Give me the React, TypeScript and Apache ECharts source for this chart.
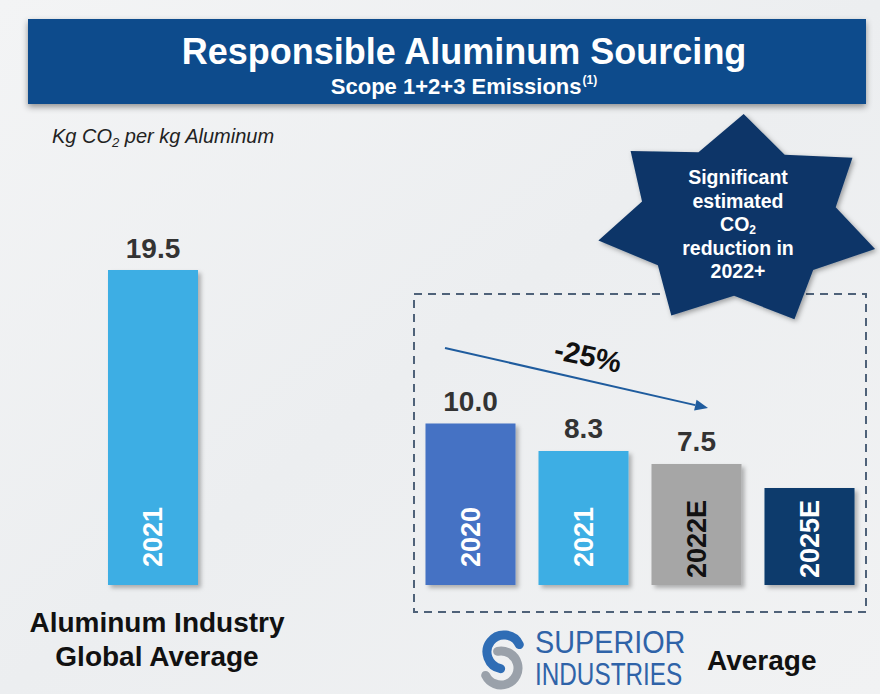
import React, { useEffect, useRef } from "react";
import * as echarts from "echarts";

// ---- Data ----
const leftCategories = ["2021"];
const leftValues = [19.5];
const leftColors = ["#3eaee4"];
const leftYearColors = ["#ffffff"];

const rightCategories = ["2020", "2021", "2022E", "2025E"];
const rightValues = [10.0, 8.3, 7.5, 6.0];
const rightShowValue = [true, true, true, false];
const rightColors = ["#4472c4", "#3eaee4", "#a6a6a6", "#0c3a6c"];
const rightYearColors = ["#ffffff", "#ffffff", "#111111", "#ffffff"];

const yMax = 20;

const FONT = "'Liberation Sans', Arial, Helvetica, sans-serif";

const barShadow = {
  shadowColor: "rgba(0,0,0,0.28)",
  shadowBlur: 4,
  shadowOffsetX: 3,
  shadowOffsetY: 3,
};

function valueSeries(xi: number, values: number[], colors: string[], show: boolean[]) {
  return {
    type: "bar",
    xAxisIndex: xi,
    yAxisIndex: xi,
    barWidth: 90,
    barGap: "-100%",
    z: 2,
    data: values.map((v, i) => ({
      value: v,
      itemStyle: { color: colors[i], ...barShadow },
      label: { show: show[i] },
    })),
    label: {
      show: true,
      position: "top",
      distance: 8,
      fontSize: 28,
      fontWeight: "bold",
      fontFamily: FONT,
      color: "#333333",
      formatter: (p: any) => Number(p.value).toFixed(1),
    },
  };
}

function yearSeries(xi: number, values: number[], cats: string[], colors: string[]) {
  return {
    type: "bar",
    xAxisIndex: xi,
    yAxisIndex: xi,
    barWidth: 90,
    barGap: "-100%",
    z: 3,
    silent: true,
    data: values.map((v, i) => ({
      value: v,
      itemStyle: { color: "rgba(0,0,0,0)", shadowBlur: 0 },
      label: { color: colors[i], distance: cats[i].length > 4 ? 7 : 18 },
    })),
    label: {
      show: true,
      position: "insideBottom",
      rotate: 90,
      align: "left",
      verticalAlign: "middle",
      distance: 18,
      fontSize: 27,
      fontWeight: "bold",
      fontFamily: FONT,
      formatter: (p: any) => cats[p.dataIndex],
    },
  };
}

function starPoints(cx: number, cy: number, rx: number, ry: number, inner: number, n: number) {
  const pts: number[][] = [];
  for (let i = 0; i < n * 2; i++) {
    const a = -Math.PI / 2 + 0.04 + (i * Math.PI) / n;
    const r = i % 2 === 0 ? 1 : inner;
    pts.push([cx + rx * r * Math.cos(a), cy + ry * r * Math.sin(a)]);
  }
  return pts;
}

export default function App() {
  const ref = useRef<HTMLDivElement>(null);

  useEffect(() => {
    if (!ref.current) return;
    const chart = echarts.init(ref.current, null, { renderer: "svg" });

    const gridTop = 262;
    const gridHeight = 323;

    const arrowStart = [445, 348];
    const arrowEnd = [708, 408];
    const ang = Math.atan2(arrowEnd[1] - arrowStart[1], arrowEnd[0] - arrowStart[0]);
    const headLen = 13;
    const headHalf = 5.5;
    const bx = arrowEnd[0] - headLen * Math.cos(ang);
    const by = arrowEnd[1] - headLen * Math.sin(ang);
    const px = -Math.sin(ang) * headHalf;
    const py = Math.cos(ang) * headHalf;

    const option: any = {
      animation: false,
      grid: [
        { left: 63, width: 180, top: gridTop, height: gridHeight },
        { left: 414, width: 452, top: gridTop, height: gridHeight },
      ],
      xAxis: [
        { type: "category", gridIndex: 0, data: leftCategories, show: false },
        { type: "category", gridIndex: 1, data: rightCategories, show: false },
      ],
      yAxis: [
        { type: "value", gridIndex: 0, min: 0, max: yMax, show: false },
        { type: "value", gridIndex: 1, min: 0, max: yMax, show: false },
      ],
      series: [
        valueSeries(0, leftValues, leftColors, [true]),
        yearSeries(0, leftValues, leftCategories, leftYearColors),
        valueSeries(1, rightValues, rightColors, rightShowValue),
        yearSeries(1, rightValues, rightCategories, rightYearColors),
      ],
      graphic: [
        {
          type: "rect",
          z: -100,
          shape: { x: 0, y: 0, width: 880, height: 694 },
          style: {
            fill: {
              type: "linear",
              x: 0,
              y: 0,
              x2: 1,
              y2: 1,
              colorStops: [
                { offset: 0, color: "#f3f4f5" },
                { offset: 0.5, color: "#eceef0" },
                { offset: 1, color: "#f1f2f3" },
              ],
            },
          },
        },
        {
          type: "rect",
          shape: { x: 28, y: 19, width: 838, height: 85 },
          style: {
            fill: "#0d4b8c",
            shadowColor: "rgba(0,0,0,0.4)",
            shadowBlur: 6,
            shadowOffsetY: 3,
          },
        },
        {
          type: "text",
          x: 464,
          y: 51,
          style: {
            text: "Responsible Aluminum Sourcing",
            fill: "#ffffff",
            font: `bold 36px ${FONT}`,
            textAlign: "center",
            textVerticalAlign: "middle",
          },
        },
        {
          type: "text",
          x: 464,
          y: 86,
          style: {
            text: "{t|Scope 1+2+3 Emissions}{s|(1)}",
            textAlign: "center",
            textVerticalAlign: "middle",
            rich: {
              t: { fontSize: 22, fontWeight: "bold", fontFamily: FONT, fill: "#ffffff", color: "#ffffff" },
              s: {
                fontSize: 12,
                fontWeight: "bold",
                fontFamily: FONT,
                color: "#ffffff",
                fill: "#ffffff",
                padding: [0, 0, 13, 1],
              },
            },
          },
        },
        {
          type: "text",
          x: 52,
          y: 136,
          style: {
            text: "{a|Kg CO}{s|2}{a| per kg Aluminum}",
            textAlign: "left",
            textVerticalAlign: "middle",
            rich: {
              a: { fontSize: 20, fontStyle: "italic", fontFamily: FONT, color: "#222222", fill: "#222222" },
              s: {
                fontSize: 13,
                fontStyle: "italic",
                fontFamily: FONT,
                color: "#222222",
                fill: "#222222",
                padding: [12, 0, 0, 0],
              },
            },
          },
        },
        {
          type: "rect",
          shape: { x: 414, y: 294, width: 452, height: 318 },
          style: {
            fill: "none",
            stroke: "#4f6279",
            lineWidth: 2,
            lineDash: [8, 6],
          },
        },
        {
          type: "polygon",
          shape: { points: starPoints(738, 221, 142, 107, 0.7, 7) },
          style: {
            fill: "#0c3567",
            shadowColor: "rgba(0,0,0,0.35)",
            shadowBlur: 5,
            shadowOffsetX: 2,
            shadowOffsetY: 2,
          },
        },
        {
          type: "text",
          x: 738,
          y: 224,
          style: {
            text: "{a|Significant}\n{a|estimated}\n{a|CO}{s|2}\n{a|reduction in}\n{a|2022+}",
            textAlign: "center",
            textVerticalAlign: "middle",
            rich: {
              a: {
                fontSize: 19.5,
                fontWeight: "bold",
                fontFamily: FONT,
                color: "#ffffff",
                fill: "#ffffff",
                lineHeight: 23.5,
              },
              s: {
                fontSize: 12,
                fontWeight: "bold",
                fontFamily: FONT,
                color: "#ffffff",
                fill: "#ffffff",
                lineHeight: 23.5,
                padding: [12, 0, 0, 0],
              },
            },
          },
        },
        {
          type: "line",
          shape: { x1: arrowStart[0], y1: arrowStart[1], x2: bx, y2: by },
          style: { stroke: "#1f5c9e", lineWidth: 2 },
        },
        {
          type: "polygon",
          shape: {
            points: [
              [arrowEnd[0], arrowEnd[1]],
              [bx + px, by + py],
              [bx - px, by - py],
            ],
          },
          style: { fill: "#1f5c9e" },
        },
        {
          type: "text",
          x: 588,
          y: 356,
          rotation: -0.21,
          style: {
            text: "-25%",
            fill: "#111111",
            font: `bold 29px ${FONT}`,
            textAlign: "center",
            textVerticalAlign: "middle",
          },
        },
        {
          type: "text",
          x: 157,
          y: 622,
          style: {
            text: "Aluminum Industry",
            fill: "#111111",
            font: `bold 28px ${FONT}`,
            textAlign: "center",
            textVerticalAlign: "middle",
          },
        },
        {
          type: "text",
          x: 157,
          y: 656,
          style: {
            text: "Global Average",
            fill: "#111111",
            font: `bold 28px ${FONT}`,
            textAlign: "center",
            textVerticalAlign: "middle",
          },
        },
        {
          type: "text",
          x: 707,
          y: 660,
          style: {
            text: "Average",
            fill: "#111111",
            font: `bold 28px ${FONT}`,
            textAlign: "left",
            textVerticalAlign: "middle",
          },
        },
        // logo swoosh
        {
          type: "arc",
          shape: { cx: 504, cy: 652, r: 17, startAngle: -0.45, endAngle: Math.PI / 2 + 0.2, clockwise: false },
          style: { stroke: "#2f6db5", lineWidth: 9, fill: "none", lineCap: "round" },
        },
        {
          type: "arc",
          shape: { cx: 501, cy: 668, r: 17, startAngle: -Math.PI / 2 - 0.2, endAngle: Math.PI - 0.45, clockwise: true },
          style: { stroke: "#9aa1aa", lineWidth: 9, fill: "none", lineCap: "round" },
        },
        {
          type: "text",
          x: 535,
          y: 641,
          scaleX: 0.9,
          style: {
            text: "SUPERIOR",
            fill: "#2f63a8",
            font: `32px ${FONT}`,
            textAlign: "left",
            textVerticalAlign: "middle",
          },
        },
        {
          type: "text",
          x: 535,
          y: 674,
          scaleX: 0.76,
          style: {
            text: "INDUSTRIES",
            fill: "#2f63a8",
            font: `32px ${FONT}`,
            textAlign: "left",
            textVerticalAlign: "middle",
          },
        },
      ],
    };

    chart.setOption(option);
    return () => chart.dispose();
  }, []);

  return (
    <div
      ref={ref}
      style={{ position: "absolute", left: 0, top: 0, width: 880, height: 694 }}
    />
  );
}
